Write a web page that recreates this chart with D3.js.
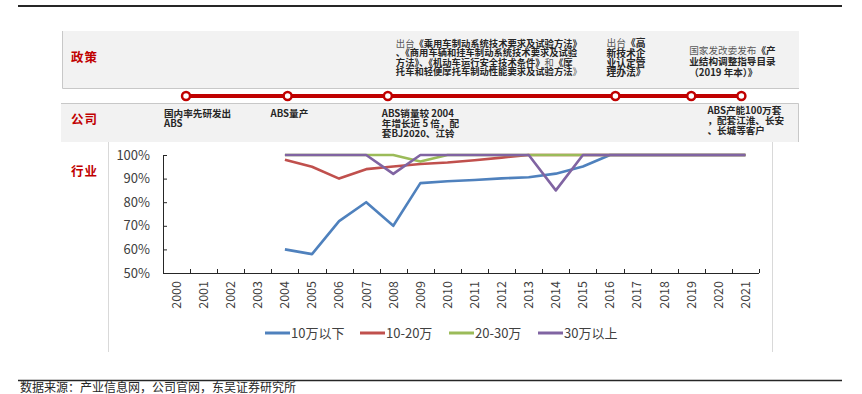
<!DOCTYPE html>
<html>
<head>
<meta charset="utf-8">
<script src="https://cdn.jsdelivr.net/npm/d3@7"></script>
<style>
  body { margin: 0; background: #fff; }
  text { font-family: "Noto Sans CJK SC", "Noto Sans", sans-serif; }
</style>
</head>
<body>
<svg id="chart"></svg>
<script>
// ABS timeline + industry penetration chart

let years = ["2000","2001","2002","2003","2004","2005","2006","2007","2008","2009","2010",
             "2011","2012","2013","2014","2015","2016","2017","2018","2019","2020","2021"];

// penetration by vehicle price band (share, 0-1)
let below10 = [null,null,null,null,0.60,0.58,0.72,0.80,0.70,0.881,0.889,0.894,0.901,0.906,0.921,0.951,1,1,1,1,1,1];
let from10to20 = [null,null,null,null,0.98,0.95,0.90,0.94,0.951,0.962,0.968,0.978,0.989,1,1,1,1,1,1,1,1,1];
let from20to30 = [null,null,null,null,1,1,1,1,1,0.972,1,1,1,1,1,1,1,1,1,1,1,1];
let above30 = [null,null,null,null,1,1,1,1,0.92,1,1,1,1,1,0.85,1,1,1,1,1,1,1];

let seriesNames = ["10万以下", "10-20万", "20-30万", "30万以上"];
let yTicks = [0.5, 0.6, 0.7, 0.8, 0.9, 1.0];

// milestones on the red timeline (fractional year position)
let milestones = [2000.35, 2004.1, 2007.8, 2016.2, 2019.0, 2020.85];

let policyNotes = [
  {at: 2, lines: [
    [["出台", 0], ["《乘用车制动系统技术要求及试验方法》", 1]],
    [["、《商用车辆和挂车制动系统技术要求及试验", 1]],
    [["方法》、《机动车运行安全技术条件》", 1], ["和", 0], ["《摩", 1]],
    [["托车和轻便摩托车制动性能要求及试验方法", 1], ["》", 0]]
  ]},
  {at: 3, lines: [
    [["出台", 0], ["《高", 1]],
    [["新技术企", 1]],
    [["业认定管", 1]],
    [["理办法》", 1]]
  ]},
  {at: 4, lines: [
    [["国家发改委发布", 0], ["《产", 1]],
    [["业结构调整指导目录", 1]],
    [["（2019 年本）》", 1]]
  ]}
];

let companyNotes = [
  {at: 0, lines: ["国内率先研发出", "ABS"]},
  {at: 1, lines: ["ABS量产"]},
  {at: 2, lines: ["ABS销量较 2004", "年增长近 5 倍，配", "套BJ2020、江铃"]},
  {at: 5, lines: ["ABS产能100万套", "，配套江淮、长安", "、长城等客户"]}
];

let w = 862;
let h = 394;
let colors = ["#4f81bd", "#c0504d", "#9bbb59", "#8064a2"];
let red = "#c00000";

let svg = d3.select("#chart")
    .attr("width", w)
    .attr("height", h);

// top and bottom rules
svg.append("line")
    .attr("x1", 18).attr("x2", 842).attr("y1", 6).attr("y2", 6)
    .attr("stroke", "#262626").attr("stroke-width", 2);
svg.append("line")
    .attr("x1", 18).attr("x2", 842).attr("y1", 380.5).attr("y2", 380.5)
    .attr("stroke", "#262626").attr("stroke-width", 1.5);
svg.append("text")
    .attr("x", 20).attr("y", 392)
    .attr("font-size", "12px").attr("fill", "#262626")
    .text("数据来源：产业信息网，公司官网，东吴证券研究所");

// grey bands
svg.append("rect")
    .attr("x", 62).attr("y", 31).attr("width", 737).attr("height", 57)
    .attr("fill", "#f2f2f2");
svg.append("path")
    .attr("d", "M62.5,31 V88.5 H799")
    .attr("fill", "none").attr("stroke", "#c8c8c8");
svg.append("rect")
    .attr("x", 61).attr("y", 103).attr("width", 738).attr("height", 39)
    .attr("fill", "#f2f2f2");
svg.append("path")
    .attr("d", "M61,103.5 H798.5 V142")
    .attr("fill", "none").attr("stroke", "#c8c8c8");

// chart frame (light grey)
svg.append("line")
    .attr("x1", 108.5).attr("x2", 108.5).attr("y1", 142).attr("y2", 352)
    .attr("stroke", "#d9d9d9");
svg.append("line")
    .attr("x1", 772.5).attr("x2", 772.5).attr("y1", 142).attr("y2", 352)
    .attr("stroke", "#d9d9d9");

// section labels
let sections = [["政策", 62], ["公司", 124], ["行业", 176]];
svg.selectAll("text.section")
    .data(sections)
    .enter()
    .append("text")
    .attr("class", "section")
    .attr("x", 71)
    .attr("y", d => d[1])
    .attr("font-size", "12.5px")
    .attr("font-weight", "bold")
    .attr("fill", red)
    .attr("letter-spacing", "1px")
    .text(d => d[0]);

// plot area
let plotLeft = 163, plotRight = 759, plotTop = 155, plotBottom = 273;

let x = d3.scaleBand()
    .domain(years)
    .range([plotLeft, plotRight])
    .padding(0);

let xPos = d3.scaleLinear()
    .domain([+years[0], +years[years.length - 1]])
    .range([x(years[0]) + x.bandwidth() / 2, x(years[years.length - 1]) + x.bandwidth() / 2]);

let y = d3.scaleLinear()
    .domain([0.5, 1])
    .range([plotBottom, plotTop]);

// y axis
let yAxis = svg.append("g")
    .attr("transform", "translate(" + plotLeft + ",0)")
    .call(d3.axisLeft(y)
        .tickValues(yTicks)
        .tickFormat(d3.format(".0%"))
        .tickSizeInner(-4)
        .tickSizeOuter(0)
        .tickPadding(13));
yAxis.selectAll("path, line").attr("stroke", "#262626");
yAxis.selectAll("text")
    .attr("font-size", "13px")
    .attr("fill", "#404040")
    .style("font-family", "'Noto Sans CJK SC', sans-serif");

// x axis: baseline + boundary ticks pointing up
let xAxis = svg.append("g").attr("class", "xaxis");
xAxis.append("line")
    .attr("x1", plotLeft).attr("x2", plotRight)
    .attr("y1", plotBottom + 0.5).attr("y2", plotBottom + 0.5)
    .attr("stroke", "#262626");
let bounds = years.map(d => x(d)).concat([x(years[years.length - 1]) + x.bandwidth()]);
xAxis.selectAll("line.tick")
    .data(bounds)
    .enter()
    .append("line")
    .attr("class", "tick")
    .attr("x1", d => Math.round(d) + 0.5).attr("x2", d => Math.round(d) + 0.5)
    .attr("y1", plotBottom).attr("y2", plotBottom - 4)
    .attr("stroke", "#262626");
xAxis.selectAll("text")
    .data(years)
    .enter()
    .append("text")
    .attr("transform", d => "translate(" + (x(d) + x.bandwidth() / 2) + "," + (plotBottom + 8) + ") rotate(-90)")
    .attr("text-anchor", "end")
    .attr("dy", "0.35em")
    .attr("font-size", "12.5px")
    .attr("fill", "#404040")
    .text(d => d);

// lines
let allSeries = [below10, from10to20, from20to30, above30];
let line = d3.line()
    .defined(d => d[1] !== null)
    .x(d => x(d[0]) + x.bandwidth() / 2)
    .y(d => y(d[1]));

svg.append("g")
    .selectAll("path")
    .data(allSeries)
    .enter()
    .append("path")
    .attr("d", s => line(years.map((yr, i) => [yr, s[i]])))
    .attr("fill", "none")
    .attr("stroke", (s, i) => colors[i])
    .attr("stroke-width", 2.6)
    .attr("stroke-linejoin", "round");

// legend
let legendX = [265, 360, 449, 538];
let legend = svg.append("g")
    .selectAll("g")
    .data(seriesNames)
    .enter()
    .append("g")
    .attr("transform", (d, i) => "translate(" + legendX[i] + ",333)");
legend.append("line")
    .attr("x1", 0).attr("x2", 25)
    .attr("stroke", (d, i) => colors[i])
    .attr("stroke-width", 3);
legend.append("text")
    .attr("x", 26)
    .attr("dy", "0.35em")
    .attr("font-size", "13px")
    .attr("fill", "#404040")
    .text(d => d);

// timeline
let tlY = 96;
svg.append("line")
    .attr("x1", xPos(milestones[0])).attr("x2", xPos(milestones[milestones.length - 1]))
    .attr("y1", tlY).attr("y2", tlY)
    .attr("stroke", red).attr("stroke-width", 4);
svg.selectAll("circle.ms")
    .data(milestones)
    .enter()
    .append("circle")
    .attr("class", "ms")
    .attr("cx", d => xPos(d))
    .attr("cy", tlY)
    .attr("r", 4)
    .attr("fill", "#fff")
    .attr("stroke", red)
    .attr("stroke-width", 2.5);

// policy notes
let policyOffset = [8, -9, -2];
let policyTop = [46.5, 47, 54];
let policyLH = [9.6, 9.8, 10.8];
let policyFS = ["9.3px", "9.8px", "9.6px"];
policyNotes.forEach((note, n) => {
    let px = xPos(milestones[note.at]) + policyOffset[n];
    let t = svg.append("text")
        .attr("x", px)
        .attr("y", policyTop[n])
        .attr("font-size", policyFS[n]);
    note.lines.forEach((segs, li) => {
        segs.forEach((seg, si) => {
            let ts = t.append("tspan")
                .text(seg[0])
                .attr("font-weight", seg[1] ? "bold" : "normal")
                .attr("fill", seg[1] ? "#262626" : "#595959");
            if (si === 0) {
                ts.attr("x", px)
                  .attr("y", policyTop[n] + li * policyLH[n]);
            }
        });
    });
});

// company notes
let companyOffset = [-22, -17, -6, -34];
let companyTop = [116.5, 116.5, 116.5, 114];
companyNotes.forEach((note, n) => {
    let cx = xPos(milestones[note.at]) + companyOffset[n];
    let t = svg.append("text")
        .attr("font-size", "9.6px")
        .attr("font-weight", "bold")
        .attr("fill", "#262626");
    note.lines.forEach((ln, li) => {
        t.append("tspan")
            .attr("x", cx)
            .attr("y", companyTop[n] + li * 10.2)
            .text(ln);
    });
});
</script>
</body>
</html>
